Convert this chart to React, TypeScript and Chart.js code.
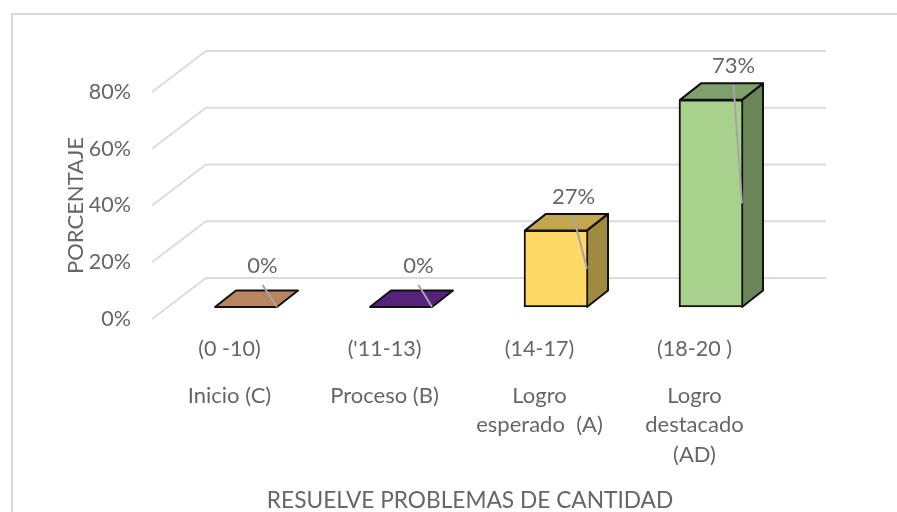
import React, { useEffect, useRef } from "react";
import { Chart, registerables } from "chart.js";

Chart.register(...registerables);

const rangeLabels = ["(0 -10)", "('11-13)", "(14-17)", "(18-20 )"];
const levelLabels = [["Inicio (C)"], ["Proceso (B)"], ["Logro", "esperado  (A)"], ["Logro", "destacado", "(AD)"]];
const percentValues = [0, 0, 27, 73];
const yTickStep = 20;
const yMax = 80;
const frontColors = ["#b98460", "#56227a", "#ffd966", "#a9d18e"];
const topColors = ["#b98460", "#56227a", "#c4a64d", "#7f9f6b"];
const sideColors = ["#b98460", "#56227a", "#a08a3f", "#6a8558"];
const yTitle = "PORCENTAJE";
const xTitle = "RESUELVE PROBLEMAS DE CANTIDAD";

const FONT = "Lato";
const TEXT = "#666666";
const GRID = "#dcdcdc";
const EDGE = "#111111";
const WALL = { dx: 54, dy: 41 };
const SHIFT = { dx: 16.5, dy: 12 };
const DEPTH = { dx: 21, dy: 16.5 };
const LABEL_OFFSET = [
  { dx: 16.5, dy: -41 },
  { dx: 17.5, dy: -41 },
  { dx: 17.5, dy: -33 },
  { dx: 22.5, dy: -34 },
];

const poly = (ctx: CanvasRenderingContext2D, pts: number[][], fill: string) => {
  ctx.beginPath();
  pts.forEach(([x, y], i) => (i ? ctx.lineTo(x, y) : ctx.moveTo(x, y)));
  ctx.closePath();
  ctx.fillStyle = fill;
  ctx.fill();
  ctx.strokeStyle = EDGE;
  ctx.lineWidth = 2;
  ctx.lineJoin = "round";
  ctx.stroke();
};

const depthPlugin = {
  id: "depth",
  beforeDraw(chart: any) {
    const { ctx } = chart;
    ctx.save();
    ctx.fillStyle = "#ffffff";
    ctx.fillRect(0, 0, chart.width, chart.height);
    ctx.strokeStyle = "#d9d9d9";
    ctx.lineWidth = 2;
    ctx.beginPath();
    ctx.moveTo(12, chart.height);
    ctx.lineTo(12, 14);
    ctx.lineTo(chart.width, 14);
    ctx.stroke();
    ctx.restore();
  },
  beforeDatasetsDraw(chart: any) {
    const { ctx, chartArea } = chart;
    const y = chart.scales.y;
    ctx.save();
    ctx.strokeStyle = GRID;
    ctx.lineWidth = 2;
    y.ticks.forEach((t: any) => {
      const py = y.getPixelForValue(t.value);
      ctx.beginPath();
      ctx.moveTo(chartArea.left, py);
      ctx.lineTo(chartArea.left + WALL.dx, py - WALL.dy);
      ctx.lineTo(chartArea.right + WALL.dx, py - WALL.dy);
      ctx.stroke();
    });
    ctx.restore();
    ctx.save();
    ctx.translate(SHIFT.dx, -SHIFT.dy);
    const meta = chart.getDatasetMeta(0);
    meta.data.forEach((el: any, i: number) => {
      const l = el.x - el.width / 2 + 1;
      const r = el.x + el.width / 2 - 1;
      const { dx, dy } = DEPTH;
      if (el.base - el.y > 0) {
        poly(ctx, [[r, el.y], [r + dx, el.y - dy], [r + dx, el.base - dy], [r, el.base]], sideColors[i]);
      }
      poly(ctx, [[l, el.y], [r, el.y], [r + dx, el.y - dy], [l + dx, el.y - dy]], topColors[i]);
    });
  },
  afterDatasetsDraw(chart: any) {
    const { ctx, chartArea } = chart;
    ctx.restore();
    const meta = chart.getDatasetMeta(0);
    ctx.save();
    ctx.font = `22px ${FONT}`;
    ctx.textAlign = "center";
    ctx.textBaseline = "middle";
    meta.data.forEach((el: any, i: number) => {
      const r = el.x + el.width / 2 - 1 + SHIFT.dx;
      const midY = (el.y + el.base) / 2 - SHIFT.dy;
      const topY = el.y - SHIFT.dy;
      const lx = el.x + SHIFT.dx + LABEL_OFFSET[i].dx;
      const ly = topY + LABEL_OFFSET[i].dy;
      ctx.strokeStyle = "#a6a6a6";
      ctx.lineWidth = 2;
      ctx.beginPath();
      ctx.moveTo(lx, ly + 19);
      ctx.lineTo(r, midY);
      ctx.stroke();
      ctx.fillStyle = TEXT;
      ctx.fillText(`${percentValues[i]}%`, lx, ly);
    });
    ctx.fillStyle = TEXT;
    ctx.font = `22.7px ${FONT}`;
    ctx.fillText(xTitle, (chartArea.left + chartArea.right) / 2 + 8, 501);
    ctx.restore();
  },
};

export default function App() {
  const ref = useRef<HTMLCanvasElement>(null);
  useEffect(() => {
    if (!ref.current) return;
    const tickFont = { family: FONT, size: 22 };
    const chart = new Chart(ref.current, {
      type: "bar",
      data: {
        labels: rangeLabels,
        datasets: [
          {
            data: percentValues,
            backgroundColor: frontColors,
            borderColor: EDGE,
            borderWidth: 2,
            borderSkipped: false,
            barThickness: 64,
            clip: false,
          } as any,
        ],
      },
      options: {
        responsive: false,
        animation: false,
        layout: { padding: { left: 63, right: 125, top: 92, bottom: 0 } },
        plugins: { legend: { display: false }, tooltip: { enabled: false } },
        scales: {
          y: {
            min: 0,
            max: yMax,
            ticks: {
              stepSize: yTickStep,
              color: TEXT,
              font: { family: FONT, size: 21.5 },
              padding: 13,
              callback: (v: any) => `${v}%`,
            },
            grid: { display: false },
            border: { display: false },
            title: { display: true, text: yTitle, color: TEXT, font: { family: FONT, size: 22 }, padding: 0 },
            afterFit: (s: any) => {
              s.width = 89;
            },
          },
          x: {
            position: "bottom",
            ticks: { color: TEXT, font: { family: FONT, size: 21.5 }, padding: 9, maxRotation: 0, autoSkip: false },
            grid: { display: false },
            border: { display: false },
            afterFit: (s: any) => {
              s.height = 54;
            },
          },
          x2: {
            type: "category",
            position: "bottom",
            labels: levelLabels as any,
            ticks: { color: TEXT, font: { ...tickFont, lineHeight: 1.34 }, padding: 0, maxRotation: 0, autoSkip: false },
            grid: { display: false },
            border: { display: false },
            afterFit: (s: any) => {
              s.height = 139;
            },
          },
        },
      } as any,
      plugins: [depthPlugin],
    });
    return () => chart.destroy();
  }, []);
  return (
    <canvas
      ref={ref}
      width={897}
      height={512}
      style={{ position: "absolute", left: 0, top: 0, display: "block" }}
    />
  );
}
